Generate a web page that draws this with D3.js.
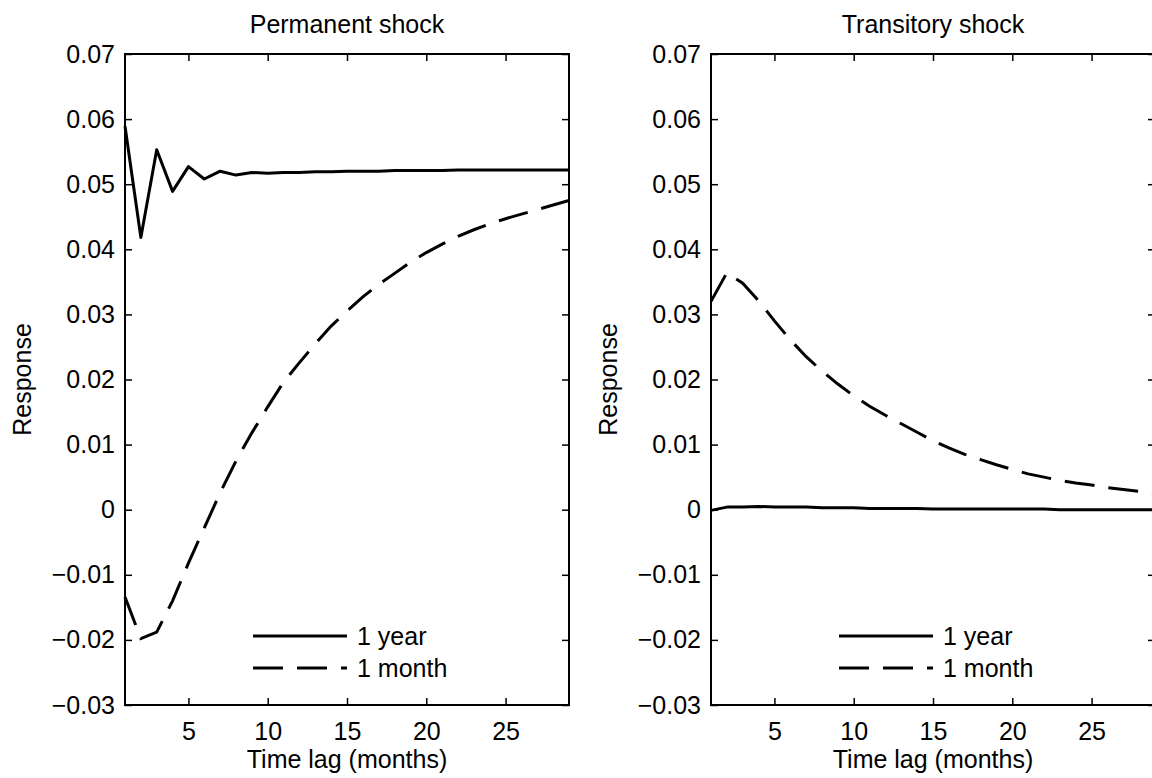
<!DOCTYPE html>
<html>
<head>
<meta charset="utf-8">
<script src="https://cdn.jsdelivr.net/npm/d3@7"></script>
<style>
  body { margin: 0; background: #fff; overflow: hidden; }
  svg { display: block; }
  text { font-family: "Liberation Sans", Arial, Helvetica, sans-serif; fill: #000; }
</style>
</head>
<body>
<div id="chart"></div>
<script>
// time lags in months
var lags = [1, 2, 3, 4, 5, 6, 7, 8, 9, 10, 11, 12, 13, 14, 15, 16, 17, 18, 19, 20,
            21, 22, 23, 24, 25, 26, 27, 28, 29];

// permanent shock responses
var permYear = [0.0589, 0.0418, 0.0553, 0.0489, 0.0527, 0.0508, 0.0520, 0.0514, 0.0518, 0.0517,
                0.0518, 0.0518, 0.0519, 0.0519, 0.0520, 0.0520, 0.0520, 0.0521, 0.0521, 0.0521,
                0.0521, 0.0522, 0.0522, 0.0522, 0.0522, 0.0522, 0.0522, 0.0522, 0.0522];
var permMonth = [-0.0134, -0.0198, -0.0188, -0.0140, -0.0082, -0.0028, 0.0026, 0.0075, 0.0118, 0.0158,
                 0.0196, 0.0226, 0.0255, 0.0282, 0.0305, 0.0327, 0.0346, 0.0363, 0.0380, 0.0395,
                 0.0408, 0.0420, 0.0430, 0.0439, 0.0447, 0.0454, 0.0461, 0.0468, 0.0475];

// transitory shock responses
var tranYear = [-0.0001, 0.0004, 0.0004, 0.0005, 0.0004, 0.0004, 0.0004, 0.0003, 0.0003, 0.0003,
                0.0002, 0.0002, 0.0002, 0.0002, 0.0001, 0.0001, 0.0001, 0.0001, 0.0001, 0.0001,
                0.0001, 0.0001, 0.0000, 0.0000, 0.0000, 0.0000, 0.0000, 0.0000, 0.0000];
var tranMonth = [0.0320, 0.0364, 0.0348, 0.0321, 0.0290, 0.0261, 0.0235, 0.0213, 0.0193, 0.0175,
                 0.0159, 0.0145, 0.0132, 0.0119, 0.0106, 0.0095, 0.0085, 0.0077, 0.0069, 0.0062,
                 0.0055, 0.0050, 0.0045, 0.0041, 0.0038, 0.0034, 0.0031, 0.0028, 0.0025];

var xTicks = [5, 10, 15, 20, 25];
var yTicks = [-0.03, -0.02, -0.01, 0, 0.01, 0.02, 0.03, 0.04, 0.05, 0.06, 0.07];
var titles = ["Permanent shock", "Transitory shock"];
var seriesNames = ["1 year", "1 month"];

var width = 1152;
var height = 778;
var fontSize = 25;
var tickLen = 7;

var panels = [
    { title: titles[0], left: 125, year: permYear, month: permMonth },
    { title: titles[1], left: 711, year: tranYear, month: tranMonth }
];
var plotW = 444;
var plotTop = 54;
var plotBottom = 705;

var svg = d3.select("#chart").append("svg")
    .attr("width", width)
    .attr("height", height);

var fmt = function (d) {
    return d === 0 ? "0" : d3.format(".2f")(d);
};

panels.forEach(function (p) {
    var x = d3.scaleLinear().domain([1, 29]).range([p.left, p.left + plotW]);
    var y = d3.scaleLinear().domain([-0.03, 0.07]).range([plotBottom, plotTop]);

    var g = svg.append("g");

    // left axis with labels, ticks inward
    var yAxis = g.append("g")
        .attr("transform", "translate(" + p.left + ",0)")
        .call(d3.axisLeft(y).tickValues(yTicks).tickFormat(fmt)
            .tickSizeInner(-tickLen).tickSizeOuter(0).tickPadding(10));
    // right axis, ticks only
    var yAxisR = g.append("g")
        .attr("transform", "translate(" + (p.left + plotW) + ",0)")
        .call(d3.axisRight(y).tickValues(yTicks).tickFormat("")
            .tickSizeInner(-tickLen).tickSizeOuter(0));
    var xAxis = g.append("g")
        .attr("transform", "translate(0," + plotBottom + ")")
        .call(d3.axisBottom(x).tickValues(xTicks)
            .tickSizeInner(-tickLen).tickSizeOuter(0).tickPadding(17));
    var xAxisT = g.append("g")
        .attr("transform", "translate(0," + plotTop + ")")
        .call(d3.axisTop(x).tickValues(xTicks).tickFormat("")
            .tickSizeInner(-tickLen).tickSizeOuter(0));

    [yAxis, yAxisR, xAxis, xAxisT].forEach(function (a) {
        a.select(".domain").remove();
        a.selectAll(".tick line").attr("stroke", "#000").attr("stroke-width", 1.5);
        a.selectAll("text")
            .style("font-family", "'Liberation Sans', Arial, Helvetica, sans-serif")
            .style("font-size", fontSize + "px")
            .attr("fill", "#000");
    });

    // box
    g.append("rect")
        .attr("x", p.left)
        .attr("y", plotTop)
        .attr("width", plotW)
        .attr("height", plotBottom - plotTop)
        .attr("fill", "none")
        .attr("stroke", "#000")
        .attr("stroke-width", 2);

    var line = d3.line()
        .x(function (d, i) { return x(lags[i]); })
        .y(function (d) { return y(d); });

    g.append("path")
        .datum(p.year)
        .attr("d", line)
        .attr("fill", "none")
        .attr("stroke", "#000")
        .attr("stroke-width", 3)
        .attr("stroke-linejoin", "round");

    g.append("path")
        .datum(p.month)
        .attr("d", line)
        .attr("fill", "none")
        .attr("stroke", "#000")
        .attr("stroke-width", 3)
        .attr("stroke-dasharray", "30,14");

    // title
    g.append("text")
        .attr("x", p.left + plotW / 2)
        .attr("y", 33)
        .attr("text-anchor", "middle")
        .style("font-size", fontSize + "px")
        .text(p.title);

    // axis labels
    g.append("text")
        .attr("x", p.left + plotW / 2)
        .attr("y", 768)
        .attr("text-anchor", "middle")
        .style("font-size", fontSize + "px")
        .text("Time lag (months)");

    g.append("text")
        .attr("transform", "translate(" + (p.left - 94) + "," + ((plotTop + plotBottom) / 2) + ") rotate(-90)")
        .attr("text-anchor", "middle")
        .style("font-size", fontSize + "px")
        .text("Response");

    // legend
    var lg = g.append("g").attr("transform", "translate(" + (p.left + 128) + ",0)");
    [636, 668].forEach(function (ly, i) {
        lg.append("line")
            .attr("x1", 0).attr("x2", 94)
            .attr("y1", ly).attr("y2", ly)
            .attr("stroke", "#000")
            .attr("stroke-width", 3)
            .attr("stroke-dasharray", i === 0 ? null : "30,14");
        lg.append("text")
            .attr("x", 104)
            .attr("y", ly + 9)
            .style("font-size", fontSize + "px")
            .text(seriesNames[i]);
    });
});
</script>
</body>
</html>
